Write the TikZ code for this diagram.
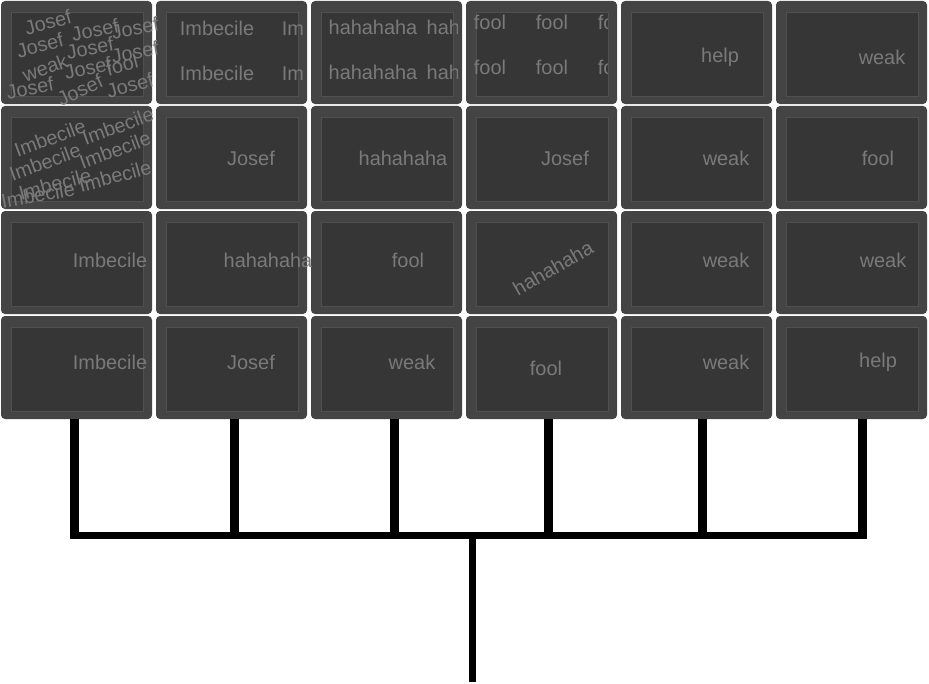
\documentclass[tikz,border=0pt]{standalone}
\usepackage{fontspec}
\setmainfont{Liberation Sans}
\definecolor{panelout}{HTML}{444444}
\definecolor{panelin}{HTML}{363636}
\definecolor{panelline}{HTML}{505050}
\definecolor{wordgray}{HTML}{7a7a7a}
\begin{document}
\begin{tikzpicture}[x=1bp,y=-1bp,
  panel/.style={fill=panelout, rounded corners=4bp, draw=none, minimum width=151bp, minimum height=103bp, anchor=north west, inner sep=0, outer sep=0},
  innerbox/.style={fill=panelin, draw=panelline, line width=0.8bp},
  word/.style={text=wordgray, font=\fontsize{20}{20}\selectfont, inner sep=0},
  wire/.style={line width=9bp, draw=black},
  bar/.style={line width=7bp, draw=black},
  trunk/.style={line width=7bp, draw=black}]
\useasboundingbox (0,0) rectangle (929,684);

% panels
\foreach \r in {0,...,3}{
  \foreach \c in {0,...,5}{
    \pgfmathsetmacro{\xo}{1+155*\c}
    \pgfmathsetmacro{\yo}{1+105*\r}
    \node[panel] (p\r\c) at (\xo,\yo) {};
    \path[innerbox] (\xo+10,\yo+11) rectangle (\xo+142,\yo+95);
  }
}

% row 1
\begin{scope}
  \clip (0,0) rectangle (158,105);
  \node[word, rotate=15] (a1) at (48,22) {Josef};
  \node[word, rotate=12] (a2) at (95,30) {Josef};
  \node[word, rotate=10] (a3) at (135,28) {Josef};
  \node[word, rotate=15] (a4) at (40,45) {Josef};
  \node[word, rotate=10] (a5) at (90,48) {Josef};
  \node[word, rotate=10] (a6) at (135,52) {Josef};
  \node[word, rotate=20] (a7) at (45,68) {weak};
  \node[word, rotate=12] (a8) at (88,68) {Josef};
  \node[word, rotate=15] (a9) at (122,65) {fool};
  \node[word, rotate=10] (a10) at (30,88) {Josef};
  \node[word, rotate=25] (a11) at (80,90) {Josef};
  \node[word, rotate=15] (a12) at (130,85) {Josef};
\end{scope}
\begin{scope}
  \clip (157,0) rectangle (303,105);
  \node[word] (b1) at (217,28) {Imbecile};
  \node[word] (b2) at (319,28) {Imbecile};
  \node[word] (b3) at (217,73) {Imbecile};
  \node[word] (b4) at (319,73) {Imbecile};
\end{scope}
\begin{scope}
  \clip (312,0) rectangle (457,105);
  \node[word] (c1) at (373,27) {hahahaha};
  \node[word] (c2) at (471,27) {hahahaha};
  \node[word] (c3) at (373,72) {hahahaha};
  \node[word] (c4) at (471,72) {hahahaha};
\end{scope}
\begin{scope}
  \clip (467,0) rectangle (607,105);
  \node[word] (d1) at (490,22) {fool};
  \node[word] (d2) at (552,22) {fool};
  \node[word] (d3) at (614,22) {fool};
  \node[word] (d4) at (490,67) {fool};
  \node[word] (d5) at (552,67) {fool};
  \node[word] (d6) at (614,67) {fool};
\end{scope}
\node[word] (e1) at (720,57) {help};
\node[word] (f1) at (882,57) {weak};

% row 2
\begin{scope}
  \clip (0,106) rectangle (158,210);
  \node[word, rotate=20] (g1) at (50,138) {Imbecile};
  \node[word, rotate=20] (g2) at (118,126) {Imbecile};
  \node[word, rotate=20] (g3) at (45,162) {Imbecile};
  \node[word, rotate=20] (g4) at (115,150) {Imbecile};
  \node[word, rotate=15] (g5) at (55,184) {Imbecile};
  \node[word, rotate=15] (g6) at (115,176) {Imbecile};
  \node[word, rotate=10] (g7) at (38,195) {Imbecile};
\end{scope}
\node[word] (h1) at (251,158) {Josef};
\node[word] (i1) at (403,158) {hahahaha};
\node[word] (j1) at (565,158) {Josef};
\node[word] (k1) at (726,158) {weak};
\node[word] (l1) at (878,158) {fool};

% row 3
\node[word] (m1) at (110,260) {Imbecile};
\node[word] (n1) at (268,260) {hahahaha};
\node[word] (o1) at (408,260) {fool};
\node[word, rotate=30] (q1) at (553,268) {hahahaha};
\node[word] (s1) at (726,260) {weak};
\node[word] (u1) at (883,260) {weak};

% row 4
\node[word] (m2) at (110,362) {Imbecile};
\node[word] (n2) at (251,362) {Josef};
\node[word] (o2) at (412,362) {weak};
\node[word] (q2) at (546,368) {fool};
\node[word] (s2) at (726,362) {weak};
\node[word] (u2) at (878,362) {help};

% tree
\coordinate (j1c) at (74,535);
\coordinate (j2c) at (234,535);
\coordinate (j3c) at (394,535);
\coordinate (j4c) at (548,535);
\coordinate (j5c) at (702,535);
\coordinate (j6c) at (862,535);
\coordinate (hub) at (472,535);
\coordinate (root) at (472,682);
\draw[wire] (p30.south -| j1c) -- ([yshift=-3.5bp]j1c);
\draw[wire] (p31.south -| j2c) -- ([yshift=-3.5bp]j2c);
\draw[wire] (p32.south -| j3c) -- ([yshift=-3.5bp]j3c);
\draw[wire] (p33.south -| j4c) -- ([yshift=-3.5bp]j4c);
\draw[wire] (p34.south -| j5c) -- ([yshift=-3.5bp]j5c);
\draw[wire] (p35.south -| j6c) -- ([yshift=-3.5bp]j6c);
\draw[bar] ([xshift=-4.5bp]j1c) -- ([xshift=4.5bp]j6c);
\draw[trunk] (hub) -- (root);
\end{tikzpicture}
\end{document}
